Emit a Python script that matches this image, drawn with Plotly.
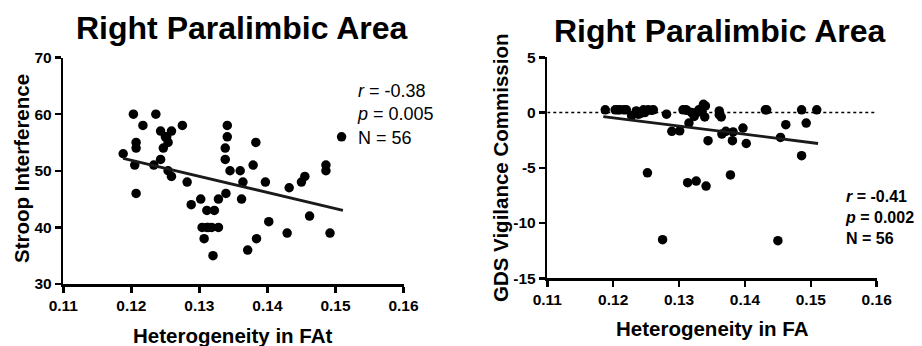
import plotly.graph_objects as go

# ---------------- data ----------------
left_x = [0.1188, 0.1203, 0.1207, 0.1207, 0.1205, 0.1207, 0.1217, 0.1236, 0.1233, 0.1243,
          0.1243, 0.1250, 0.1247, 0.1254, 0.1259, 0.1254, 0.1259, 0.1275, 0.1282, 0.1288,
          0.1302, 0.1311, 0.1322, 0.1304, 0.1311, 0.1318, 0.1328, 0.1307, 0.1320, 0.1328,
          0.1339, 0.1338, 0.1338, 0.1341, 0.1341, 0.1345, 0.1360, 0.1364, 0.1362, 0.1379,
          0.1383, 0.1384, 0.1371, 0.1397, 0.1402, 0.1432, 0.1429, 0.1450, 0.1455, 0.1462,
          0.1486, 0.1486, 0.1492, 0.1509, 0.1313, 0.1252]
left_y = [53, 60, 55, 54, 51, 46, 58, 60, 51, 52,
          57, 56, 54, 55, 57, 50, 49, 58, 48, 44,
          45, 43, 43, 40, 40, 40, 40, 38, 35, 45,
          46, 54, 52, 58, 56, 50, 50, 48, 45, 51,
          55, 38, 36, 48, 41, 47, 39, 48, 49, 42,
          51, 50, 39, 56, 40, 56]
left_fit_x = [0.1188, 0.1511]
left_fit_y = [52.2, 43.0]

right_x = [0.1188, 0.1203, 0.1210, 0.1216, 0.1235, 0.1238, 0.1246, 0.1253, 0.1261, 0.1281,
           0.1289, 0.1301, 0.1252, 0.1275, 0.1306, 0.1312, 0.1313, 0.1326, 0.1341, 0.1319,
           0.1327, 0.1315, 0.1332, 0.1337, 0.1339, 0.1344, 0.1361, 0.1361, 0.1365, 0.1371,
           0.1382, 0.1381, 0.1397, 0.1402, 0.1378, 0.1431, 0.1433, 0.1454, 0.1462, 0.1486,
           0.1493, 0.1486, 0.1509, 0.1450, 0.1228, 0.1241, 0.1220, 0.1258, 0.1323, 0.1330,
           0.1310, 0.1335, 0.1340, 0.1364, 0.1248, 0.1207]
right_y = [0.25, 0.25, 0.25, 0.25, 0.15, -0.15, 0.25, 0.25, 0.25, -0.15,
           -1.7, -1.65, -5.45, -11.5, 0.25, 0.2, -6.35, -6.2, -6.65, 0.0,
           0.0, -0.95, 0.15, 0.75, -0.4, -2.55, 0.15, -0.2, -1.95, -1.7,
           -1.75, -2.55, -1.4, -2.8, -5.65, 0.25, 0.25, -2.25, -1.1, 0.25,
           -0.95, -3.9, 0.25, -11.6, -0.3, -0.1, 0.25, 0.2, -0.35, 0.25,
           0.25, 0.1, 0.6, -0.4, 0.0, 0.25]
right_fit_x = [0.1185, 0.1511]
right_fit_y = [-0.36, -2.8]

x_ticks = [0.11, 0.12, 0.13, 0.14, 0.15, 0.16]
x_tick_text = ["0.11", "0.12", "0.13", "0.14", "0.15", "0.16"]
left_y_ticks = [30, 40, 50, 60, 70]
left_y_tick_text = ["30", "40", "50", "60", "70"]
right_y_ticks = [-15, -10, -5, 0, 5]
right_y_tick_text = ["-15", "-10", "-5", "0", "5"]

title_text = "Right Paralimbic Area"
left_xlabel = "Heterogeneity in FAt"
left_ylabel = "Stroop Interference"
right_xlabel = "Heterogeneity in FA"
right_ylabel = "GDS Vigilance Commission"
left_stats = "<i>r</i> = -0.38<br><i>p</i> = 0.005<br>N = 56"
right_stats = "<b><i>r</i> = -0.41<br><i>p</i> = 0.002<br>N = 56</b>"

# ---------------- figure ----------------
W, H = 922, 346
FONT = "Liberation Sans, Arial, Helvetica, sans-serif"


def px(x):
    return x / W


def py(y):
    return 1 - y / H


def bold(labels):
    return ["<b>%s</b>" % t for t in labels]


fig = go.Figure()
fig.add_trace(go.Scatter(x=left_x, y=left_y, mode="markers",
                         marker=dict(color="black", size=9.5),
                         xaxis="x", yaxis="y", showlegend=False))
fig.add_trace(go.Scatter(x=left_fit_x, y=left_fit_y, mode="lines",
                         line=dict(color="#1a1a1a", width=2.8),
                         xaxis="x", yaxis="y", showlegend=False))
fig.add_trace(go.Scatter(x=right_x, y=right_y, mode="markers",
                         marker=dict(color="black", size=9.5),
                         xaxis="x2", yaxis="y2", showlegend=False))
fig.add_trace(go.Scatter(x=right_fit_x, y=right_fit_y, mode="lines",
                         line=dict(color="#1a1a1a", width=2.8),
                         xaxis="x2", yaxis="y2", showlegend=False))

axis_common = dict(showline=True, linecolor="black", linewidth=2.5, ticks="outside",
                   ticklen=6, tickwidth=2.5, tickcolor="black", showgrid=False,
                   zeroline=False, mirror=False, automargin=False,
                   tickfont=dict(family=FONT, size=15.5, color="black"))

fig.update_layout(
    template="none",
    width=W, height=H, margin=dict(l=0, r=0, t=0, b=0, pad=0),
    paper_bgcolor="white", plot_bgcolor="white", showlegend=False,
    xaxis=dict(domain=[px(63.3), px(403.5)], range=[0.11, 0.16], anchor="y",
               tickvals=x_ticks, ticktext=bold(x_tick_text), **axis_common),
    yaxis=dict(domain=[py(284), py(57.5)], range=[30, 70], anchor="x",
               tickvals=left_y_ticks, ticktext=bold(left_y_tick_text), **axis_common),
    xaxis2=dict(domain=[px(547.3), px(876.7)], range=[0.11, 0.16], anchor="y2",
                tickvals=x_ticks, ticktext=bold(x_tick_text), **axis_common),
    yaxis2=dict(domain=[py(278.3), py(57.3)], range=[-15, 5], anchor="x2",
                tickvals=right_y_ticks, ticktext=bold(right_y_tick_text), **axis_common),
)

# dotted zero reference line on the right chart
fig.add_shape(type="line", xref="x2", yref="y2", x0=0.11, x1=0.16, y0=0, y1=0,
              line=dict(color="black", width=1.5, dash="dot"))


def ann(text, x, y, size, is_bold=True, angle=0, xanchor="center", align="center"):
    fig.add_annotation(text=("<b>%s</b>" % text) if is_bold else text,
                       x=px(x), y=py(y), xref="paper", yref="paper",
                       showarrow=False, textangle=angle, xanchor=xanchor,
                       yanchor="middle", align=align, borderpad=0,
                       font=dict(family=FONT, size=size, color="black"))


ann(title_text, 242, 28, 32)
ann(title_text, 720, 31, 32)
ann(left_xlabel, 233, 335, 20.5)
ann(right_xlabel, 712, 328, 20.5)
ann(left_ylabel, 21, 169, 20.5, angle=-90)
ann(right_ylabel, 500, 168, 20.5, angle=-90)
ann(left_stats, 356, 114, 18, is_bold=False, xanchor="left", align="left")
ann(right_stats, 844, 217, 16, is_bold=False, xanchor="left", align="left")

fig.write_html(
    "out.html",
    config={"displayModeBar": False, "staticPlot": True},
    post_script="document.body.style.margin='0';document.body.style.padding='0';"
                "document.documentElement.style.overflow='hidden';",
)
